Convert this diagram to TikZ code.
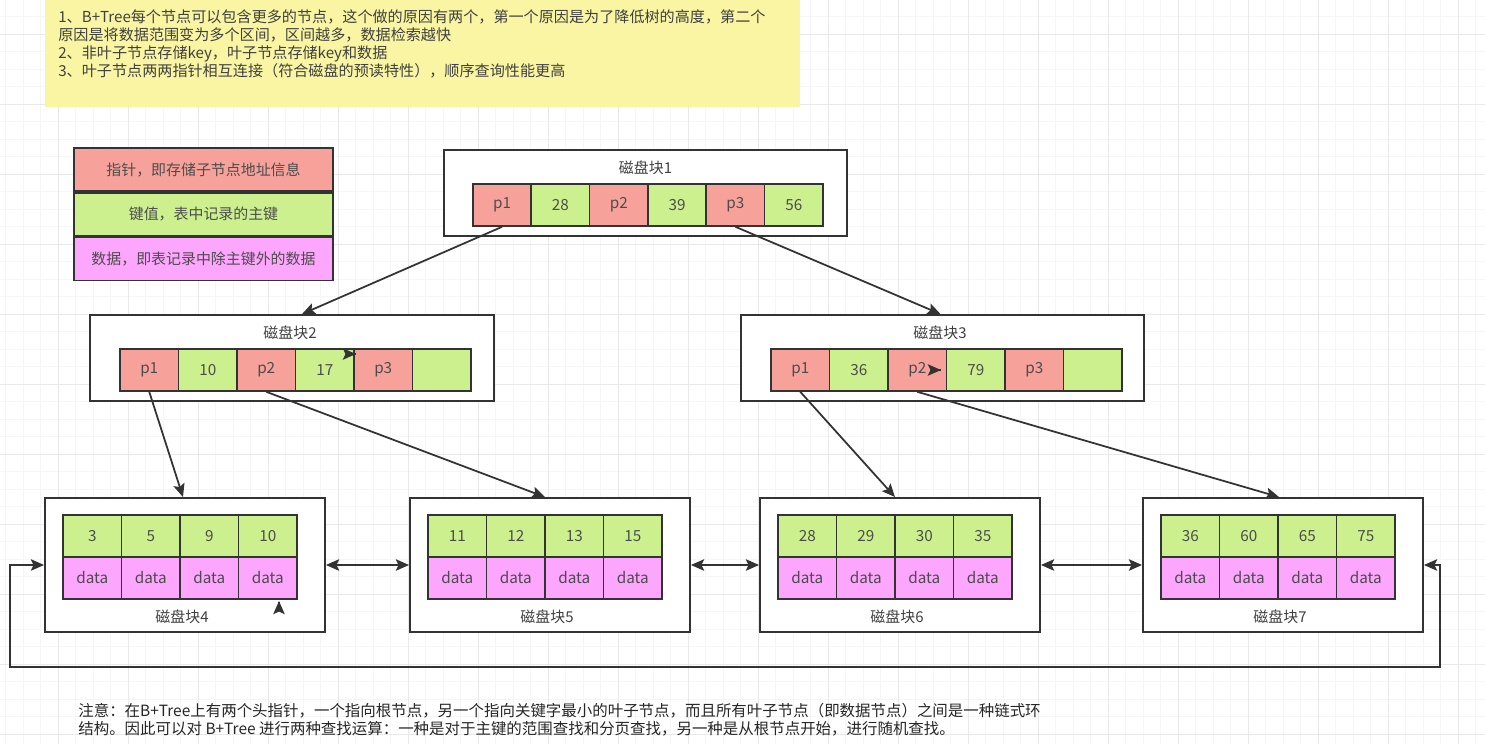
\documentclass[tikz,border=0pt]{standalone}
\usepackage{fontspec}
\setmainfont{Noto Sans CJK SC}
\usetikzlibrary{positioning, calc, arrows.meta}

\definecolor{ptrred}{HTML}{F6A29A}
\definecolor{keygreen}{HTML}{CDF08F}
\definecolor{datapink}{HTML}{FDA6FD}
\definecolor{notebg}{HTML}{F9F5A3}
\definecolor{inkgray}{HTML}{333333}

\tikzset{
  cell/.style={draw=inkgray, line width=0.9pt, minimum width=1.17cm, minimum height=0.84cm,
    inner sep=0pt, font=\fontsize{8.7}{10}\selectfont, text=black!70},
  ptrcell/.style={cell, fill=ptrred},
  keycell/.style={cell, fill=keygreen},
  datacell/.style={cell, fill=datapink},
  blockbox/.style={draw=inkgray, line width=1.1pt, fill=white, inner sep=0pt},
  blocktitle/.style={font=\fontsize{8.5}{10}\selectfont, text=black!75, inner sep=0pt},
  legendrow/.style={draw=inkgray, line width=1pt, minimum width=5.18cm, minimum height=0.86cm,
    inner sep=0pt, font=\fontsize{8.5}{10}\selectfont, text=black!70},
  tip/.tip={Stealth[length=7.5pt,width=6.5pt,inset=1.5pt]},
  link/.style={-tip, line width=1pt, draw=inkgray},
  bilink/.style={tip-tip, line width=1pt, draw=inkgray},
  minorgrid/.style={draw=gray!7, line width=0.4pt},
  majorgrid/.style={draw=gray!17, line width=0.5pt},
}

\begin{document}
\begin{tikzpicture}[x=0.02cm, y=-0.02cm]
\useasboundingbox (0,0) rectangle (1485,744);
\fill[white] (0,0) rectangle (1485,744);
% grid
\foreach \gx in {5.5,23,...,1485} \draw[minorgrid] (\gx,0) -- (\gx,744);
\foreach \gy in {-1,16.5,...,744} \draw[minorgrid] (0,\gy) -- (1485,\gy);
\foreach \gx in {58,128,...,1485} \draw[majorgrid] (\gx,0) -- (\gx,744);
\foreach \gy in {34,104,...,744} \draw[majorgrid] (0,\gy) -- (1485,\gy);

% note
\fill[notebg] (45,0) rectangle (800,107);
\node[anchor=north west, align=left, inner sep=0pt, text=black!75,
  font=\fontsize{8.6}{10.4}\selectfont] (note) at (58,9)
  {1、B+Tree每个节点可以包含更多的节点，这个做的原因有两个，第一个原因是为了降低树的高度，第二个\\
   原因是将数据范围变为多个区间，区间越多，数据检索越快\\
   2、非叶子节点存储key，叶子节点存储key和数据\\
   3、叶子节点两两指针相互连接（符合磁盘的预读特性），顺序查询性能更高};

% legend
\node[legendrow, fill=ptrred] (lgp) at (203.5,169.5) {指针，即存储子节点地址信息};
\node[legendrow, fill=keygreen, below=0pt of lgp] (lgk) {键值，表中记录的主键};
\node[legendrow, fill=datapink, below=0pt of lgk] (lgd) {数据，即表记录中除主键外的数据};

% root
\node[blockbox, minimum width=8.06cm, minimum height=1.72cm] (b1) at (645.5,193) {};
\node[blocktitle] (t1) at (645.5,168) {磁盘块1};
\foreach \lab/\sty [count=\i] in {p1/ptrcell, 28/keycell, p2/ptrcell, 39/keycell, p3/ptrcell, 56/keycell}
  \node[\sty] (c1-\i) at ({443.8+58.33*\i},205) {\lab};

% second level
\node[blockbox, minimum width=8.08cm, minimum height=1.72cm] (b2) at (292,358) {};
\node[blocktitle] (t2) at (290,333) {磁盘块2};
\foreach \lab/\sty [count=\i] in {p1/ptrcell, 10/keycell, p2/ptrcell, 17/keycell, p3/ptrcell, /keycell}
  \node[\sty] (c2-\i) at ({90.75+58.5*\i},370) {\lab};

\node[blockbox, minimum width=8.06cm, minimum height=1.72cm] (b3) at (942.5,358) {};
\node[blocktitle] (t3) at (940,333) {磁盘块3};
\foreach \lab/\sty [count=\i] in {p1/ptrcell, 36/keycell, p2/ptrcell, 79/keycell, p3/ptrcell, /keycell}
  \node[\sty] (c3-\i) at ({741.75+58.5*\i},370) {\lab};

% leaves
\foreach \n/\xo/\ka/\kb/\kc/\kd in {4/63/3/5/9/10, 5/428/11/12/13/15, 6/778/28/29/30/35, 7/1161/36/60/65/75}
{
  \node[blockbox, minimum width=5.6cm, minimum height=2.68cm] (b\n) at (\xo+122,565) {};
  \node[blocktitle] (t\n) at (\xo+119,617) {磁盘块\n};
  \foreach \k [count=\i] in {\ka,\kb,\kc,\kd}
  {
    \node[keycell] (k\n-\i) at ({\xo-29.25+58.5*\i},536) {\k};
    \node[datacell] (d\n-\i) at ({\xo-29.25+58.5*\i},578) {data};
  }
}

% pointers
\draw[link] (c1-1.south) -- ($(b2.north)+(10,0)$);
\draw[link] (c1-5.south) -- ($(b3.north)+(-2,0)$);
\draw[link] (c2-1.south) -- ($(b4.north)+(-2,0)$);
\draw[link] (c2-3.south) -- ($(b5.north)+(-5,0)$);
\draw[link] (c3-1.south) -- ($(b6.north)+(-5,0)$);
\draw[link] (c3-3.south) -- ($(b7.north)+(-4,0)$);

% leaf chain
\draw[bilink] (b4.east) -- (b5.west);
\draw[bilink] (b5.east) -- (b6.west);
\draw[bilink] (b6.east) -- (b7.west);
\coordinate (loopR) at (1440,667);
\coordinate (loopL) at (10,667);
\draw[bilink] (b7.east) -| (loopR) -- (loopL) |- (b4.west);

% stray tips
\coordinate (s1) at (356,354);
\coordinate (s2) at (941,370);
\coordinate (s3) at (279,601);
\draw[link] ($(s1)+(-0.5,0)$) -- (s1);
\draw[link] ($(s2)+(-0.5,0)$) -- (s2);
\draw[link] ($(s3)+(0,0.5)$) -- (s3);

% footnote
\node[anchor=north west, align=left, inner sep=0pt, text=black!85,
  font=\fontsize{8.8}{10.2}\selectfont] (foot) at (78,703)
  {注意：在B+Tree上有两个头指针，一个指向根节点，另一个指向关键字最小的叶子节点，而且所有叶子节点（即数据节点）之间是一种链式环\\
   结构。因此可以对 B+Tree 进行两种查找运算：一种是对于主键的范围查找和分页查找，另一种是从根节点开始，进行随机查找。};
\end{tikzpicture}
\end{document}
